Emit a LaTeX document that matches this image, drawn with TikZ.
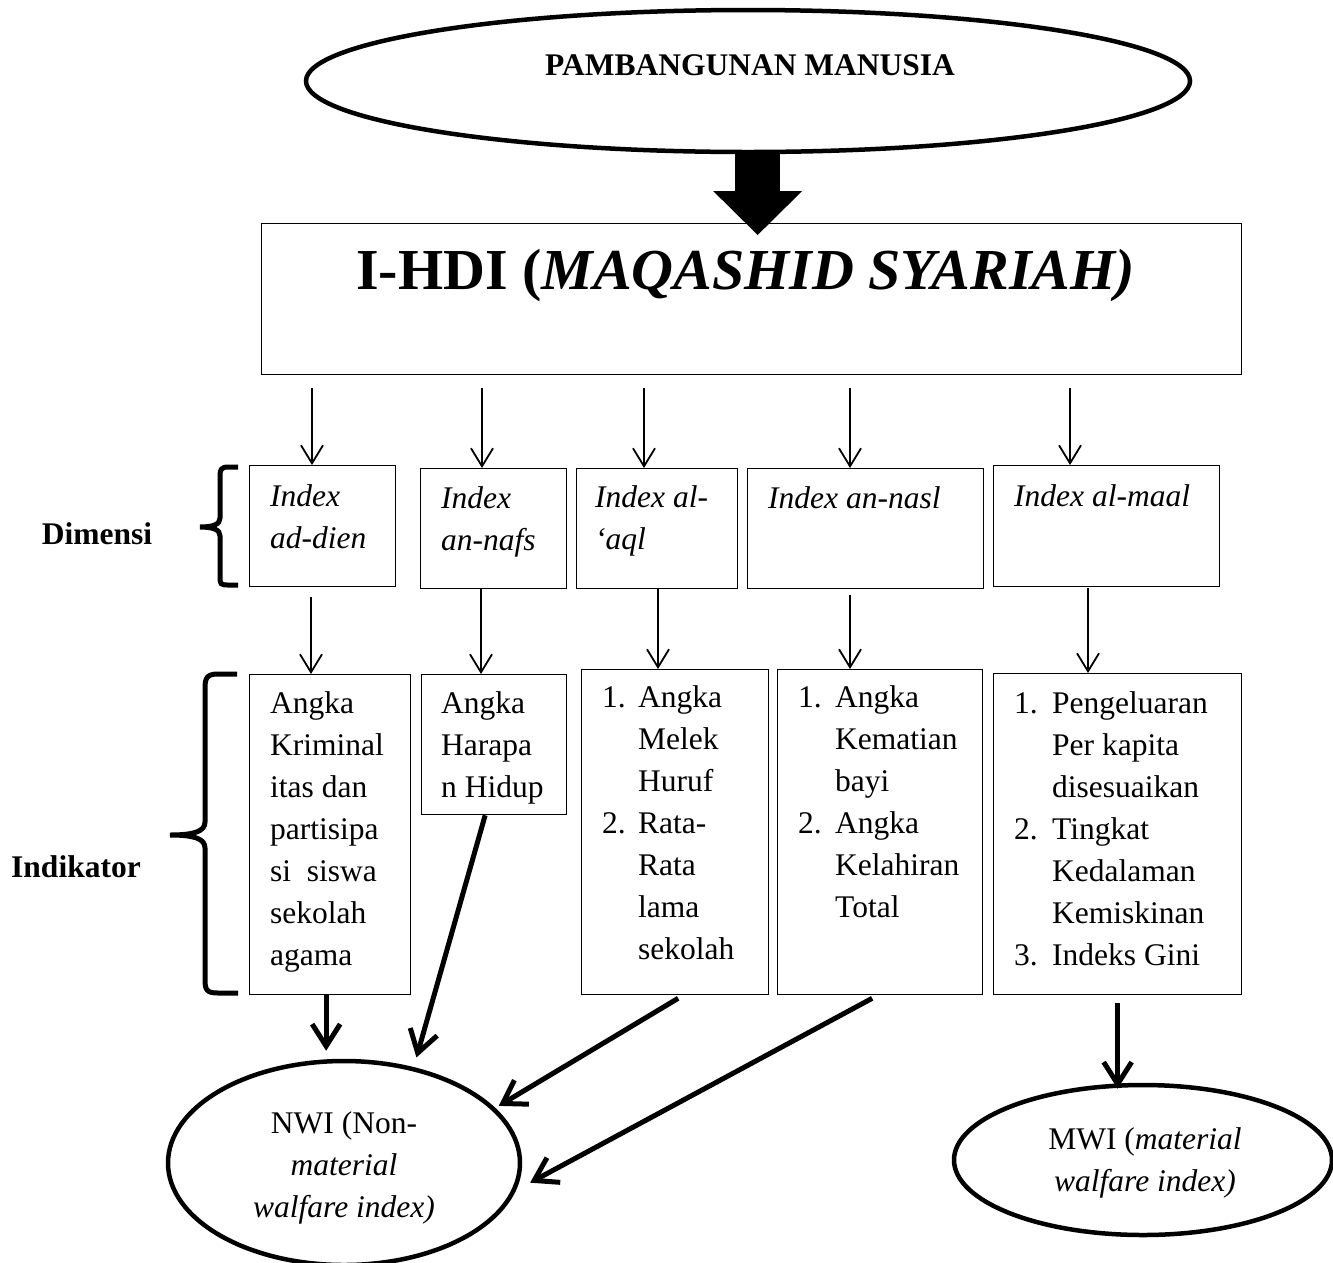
\documentclass[tikz,border=0pt]{standalone}
\usepackage{fontspec}
\setmainfont{Liberation Serif}
\usetikzlibrary{arrows.meta,shapes.geometric}
\newcommand\bodysize{\fontsize{31.5}{42}\selectfont}
\newcommand\lns[1]{\parbox[t]{300pt}{\raggedright #1}}
\newcommand\clns[1]{\parbox[t]{300pt}{\centering #1}}
\newcommand\numlist[2]{\begin{tabular}[t]{@{}p{#1}@{}l@{}}#2\end{tabular}}
\begin{document}
\begin{tikzpicture}[x=1pt,y=-1pt,
  box/.style={draw, line width=1.3pt, inner sep=0pt, anchor=north west, fill=white},
  txt/.style={inner sep=0pt, anchor=base west, font=\bodysize},
  ctxt/.style={inner sep=0pt, anchor=base, font=\bodysize},
  oval/.style={draw, ellipse, line width=4.5pt, inner sep=0pt},
  thinarrow/.style={line width=1.8pt, -{Straight Barb[length=18pt,width=22pt]}},
  fatarrow/.style={line width=5pt, -{Straight Barb[length=22pt,width=28pt]}},
  bigarrow/.style={line width=45pt, -{Triangle[length=44pt,width=89pt,line width=0pt]}},
  brace/.style={line width=5pt}
]
\useasboundingbox (0,0) rectangle (1333,1262);
\fill[white] (0,0) rectangle (1333,1262);
\clip (0,0) rectangle (1333,1262);

% top goal
\node[oval, minimum width=884pt, minimum height=142pt] (top) at (748,81) {};
\node[ctxt, font=\bodysize\bfseries] (toptext) at (750,75) {PAMBANGUNAN MANUSIA};

% I-HDI box
\node[box, minimum width=980pt, minimum height=151pt] (ihdi) at (261,223) {};
\node[txt, font=\fontsize{58}{70}\selectfont\bfseries] (ihditext) at (356,289)
  {I-HDI (\textit{MAQASHID SYARIAH)}};

% broad arrow from the goal to the index
\coordinate (bigtip) at ([xshift=6pt,yshift=-12pt]ihdi.north);
\draw[bigarrow] (top.south -| bigtip) -- (bigtip);

% dimension boxes
\node[box, minimum width=146pt, minimum height=121pt] (d1) at (249,465) {};
\node[box, minimum width=146pt, minimum height=120pt] (d2) at (420,468) {};
\node[box, minimum width=161pt, minimum height=120pt] (d3) at (576,468) {};
\node[box, minimum width=236pt, minimum height=120pt] (d4) at (747,468) {};
\node[box, minimum width=226pt, minimum height=121pt] (d5) at (993,465) {};
\node[txt] (td1) at (270,506) {\lns{\itshape Index\\ad-dien}};
\node[txt] (td2) at (441,508) {\lns{\itshape Index\\an-nafs}};
\node[txt] (td3) at (595,507) {\lns{\itshape Index al-\\‘aql}};
\node[txt] (td4) at (768,508) {\itshape Index an-nasl};
\node[txt] (td5) at (1014,506) {\itshape Index al-maal};

% indicator boxes
\node[box, minimum width=161pt, minimum height=320pt] (i1) at (249,674) {};
\node[box, minimum width=145pt, minimum height=140pt] (i2) at (421,674) {};
\node[box, minimum width=187pt, minimum height=325pt] (i3) at (581,669) {};
\node[box, minimum width=205pt, minimum height=325pt] (i4) at (777,669) {};
\node[box, minimum width=248pt, minimum height=321pt] (i5) at (993,673) {};
\node[txt] (ti1) at (270,713) {\lns{Angka\\Kriminal\\itas dan\\partisipa\\si\ \ siswa\\sekolah\\agama}};
\node[txt] (ti2) at (441,713) {\lns{Angka\\Harapa\\n Hidup}};
\node[txt] (ti3) at (602,707) {\numlist{36pt}{1. & Angka\\ & Melek\\ & Huruf\\2. & Rata-\\ & Rata\\ & lama\\ & sekolah}};
\node[txt] (ti4) at (798,707) {\numlist{37pt}{1. & Angka\\ & Kematian\\ & bayi\\2. & Angka\\ & Kelahiran\\ & Total}};
\node[txt] (ti5) at (1014,713) {\numlist{38pt}{1. & Pengeluaran\\ & Per kapita\\ & disesuaikan\\2. & Tingkat\\ & Kedalaman\\ & Kemiskinan\\3. & Indeks Gini}};

% row labels and braces
\node[ctxt, font=\bodysize\bfseries] (dimensi) at (97,544) {Dimensi};
\node[ctxt, font=\bodysize\bfseries] (indikator) at (76,877) {Indikator};
\draw[brace] (238,467) -- (228,467) .. controls (221,467) and (220,470) .. (220,476)
  -- (220,518) .. controls (220,524) and (214,527) .. (200,527)
  .. controls (214,527) and (220,530) .. (220,536)
  -- (220,578) .. controls (220,584) and (221,585) .. (228,585) -- (238,585);
\draw[brace] (237,674) -- (218,674) .. controls (207,674) and (205,678) .. (205,688)
  -- (205,822) .. controls (205,831) and (195,835) .. (170,835)
  .. controls (195,835) and (205,839) .. (205,848)
  -- (205,980) .. controls (205,990) and (207,993) .. (218,993) -- (238,993);

% outcome ellipses
\node[oval, minimum width=352pt, minimum height=204pt] (nwi) at (344,1163) {};
\node[oval, minimum width=378pt, minimum height=150pt] (mwi) at (1143,1160) {};
\node[ctxt] (nwitext) at (344,1133) {\clns{NWI (Non-\\\textit{material}\\\textit{walfare index)}}};
\node[ctxt] (mwitext) at (1145,1149) {\clns{MWI (\textit{material}\\\textit{walfare index)}}};

% index to dimensions
\coordinate (s1) at (312,388);
\coordinate (s2) at (482,388);
\coordinate (s3) at (644,388);
\coordinate (s4) at (850,388);
\coordinate (s5) at (1070,388);
\draw[thinarrow] (s1) -- (s1 |- d1.north);
\draw[thinarrow] (s2) -- (s2 |- d2.north);
\draw[thinarrow] (s3) -- (s3 |- d3.north);
\draw[thinarrow] (s4) -- (s4 |- d4.north);
\draw[thinarrow] (s5) -- (s5 |- d5.north);

% dimensions to indicators
\coordinate (u1) at (311,597);
\coordinate (u2) at (481,588);
\coordinate (u3) at (658,588);
\coordinate (u4) at (850,595);
\coordinate (u5) at (1088,588);
\draw[thinarrow] (u1) -- (u1 |- i1.north);
\draw[thinarrow] (u2) -- (u2 |- i2.north);
\draw[thinarrow] (u3) -- (u3 |- i3.north);
\draw[thinarrow] (u4) -- (u4 |- i4.north);
\draw[thinarrow] (u5) -- (u5 |- i5.north);

% indicators to welfare indices
\draw[fatarrow, shorten >=8pt] ([xshift=-4pt]i1.south) -- ([xshift=-4pt]i1.south |- nwi.north);
\draw[fatarrow, shorten >=10pt] ([xshift=-9pt]i2.south) -- (nwi.54);
\draw[fatarrow, shorten >=4pt] ([xshift=3pt,yshift=-3pt]i3.south) -- (nwi.20);
\draw[fatarrow, shorten >=16pt] ([xshift=-8pt,yshift=-3pt]i4.south) -- (nwi.-9);
\draw[fatarrow, shorten >=2pt] ([yshift=-8pt]i5.south) -- ([yshift=-8pt]i5.south |- mwi.north);
\end{tikzpicture}
\end{document}
